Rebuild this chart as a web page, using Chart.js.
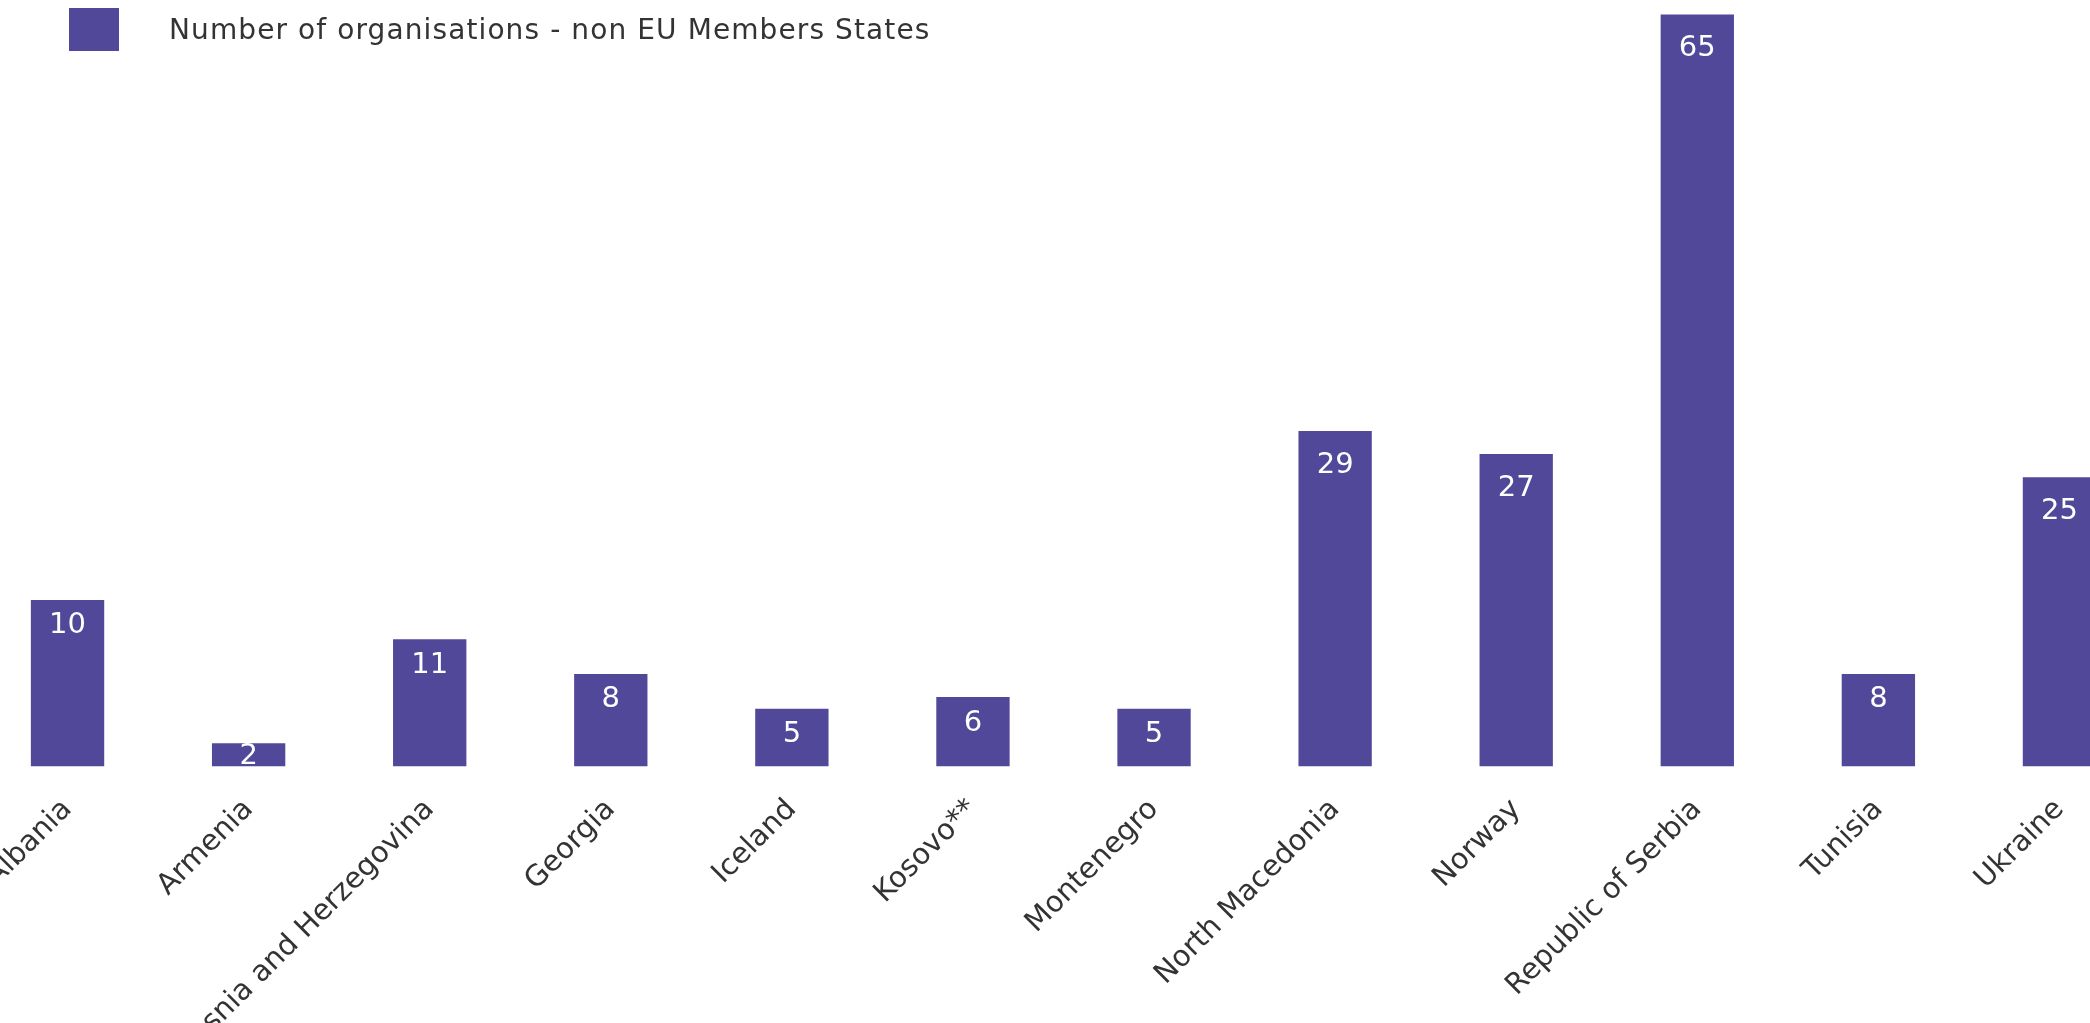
<!DOCTYPE html>
<html>
<head>
<meta charset="utf-8">
<script src="https://cdn.jsdelivr.net/npm/chart.js@4/dist/chart.umd.min.js"></script>
<style>
  html, body { margin: 0; padding: 0; background: #fff; overflow: hidden; }
  body { width: 2090px; height: 1023px; position: relative; }
  #wrap { position: absolute; left: -23px; top: 0; width: 2173px; height: 1023px; }
  #legend { position: absolute; left: 69px; top: 8px; display: flex; align-items: center; font-family: "DejaVu Sans", sans-serif; font-size: 28px; letter-spacing: 1.1px; color: #333; z-index: 2; }
  #legend .box { width: 50px; height: 43px; background: #51489a; margin-right: 50px; }
</style>
</head>
<body>
<div id="legend"><span class="box"></span><span id="legendText"></span></div>
<div id="wrap"><canvas id="myChart"></canvas></div>
<script>
const countries = ['Albania', 'Armenia', 'Bosnia and Herzegovina', 'Georgia', 'Iceland', 'Kosovo**',
    'Montenegro', 'North Macedonia', 'Norway', 'Republic of Serbia', 'Tunisia', 'Ukraine'];
// bar heights as drawn in the picture
const barValues = [14.4, 2, 11, 8, 5, 6, 5, 29, 27, 65, 8, 25];
// numbers printed on the bars
const valueLabels = ['10', '2', '11', '8', '5', '6', '5', '29', '27', '65', '8', '25'];
const seriesName = 'Number of organisations - non EU Members States';

document.getElementById('legendText').textContent = seriesName;

const barColor = '#51489a';

// white numbers inside the top of each bar
const barLabels = {
    id: 'barLabels',
    afterDatasetsDraw(chart) {
        const ctx = chart.ctx;
        const area = chart.chartArea;
        const meta = chart.getDatasetMeta(0);
        ctx.save();
        ctx.beginPath();
        ctx.rect(area.left, area.top, area.right - area.left, area.bottom - area.top);
        ctx.clip();
        ctx.fillStyle = '#ffffff';
        ctx.font = '29px "DejaVu Sans", sans-serif';
        ctx.textAlign = 'center';
        ctx.textBaseline = 'middle';
        meta.data.forEach(function(bar, i) {
            const h = bar.base - bar.y;
            const off = h > 200 ? 34 : Math.min(26, h * 0.55);
            ctx.fillText(valueLabels[i], bar.x, bar.y + off);
        });
        ctx.restore();
    }
};

const data = {
    labels: countries,
    datasets: [{
        label: seriesName,
        data: barValues,
        backgroundColor: barColor,
        borderWidth: 0,
        categoryPercentage: 1,
        barPercentage: 0.405
    }]
};

const config = {
    type: 'bar',
    data: data,
    options: {
        responsive: true,
        maintainAspectRatio: false,
        animation: false,
        layout: { padding: 0 },
        scales: {
            x: {
                offset: true,
                grid: { display: false, drawTicks: false },
                border: { display: false },
                ticks: {
                    autoSkip: false,
                    minRotation: 45,
                    maxRotation: 45,
                    padding: 26,
                    color: '#333',
                    font: { family: 'DejaVu Sans', size: 29 }
                },
                afterFit: function(scale) {
                    scale.height = 256.5;
                    // labels may hang off the left edge, as in the original
                    scale.paddingLeft = 0;
                    scale.paddingRight = 0;
                }
            },
            y: {
                display: false,
                min: 0,
                max: 66.25
            }
        },
        plugins: {
            legend: { display: false },
            tooltip: { enabled: false }
        }
    },
    plugins: [barLabels]
};

const myChart = new Chart(
    document.getElementById('myChart'),
    config
);
</script>
</body>
</html>
